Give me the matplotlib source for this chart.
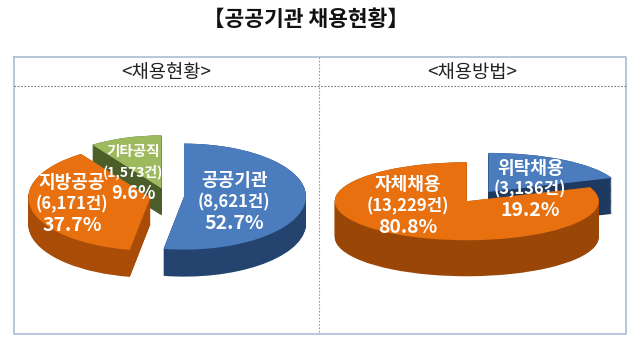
import numpy as np
import matplotlib
matplotlib.use("Agg")
import matplotlib.pyplot as plt

plt.rcParams['font.family'] = ['Noto Sans CJK KR', 'DejaVu Sans']

# ---- data ----
title = "【공공기관 채용현황】"
left_title = "<채용현황>"
right_title = "<채용방법>"

left_names = ["공공기관", "지방공공", "기타공직"]
left_counts = [8621, 6171, 1573]
left_pcts = [52.7, 37.7, 9.6]

right_names = ["위탁채용", "자체채용"]
right_counts = [3136, 13229]
right_pcts = [19.2, 80.8]

W, H = 640, 347
fig = plt.figure(figsize=(W / 100, H / 100), dpi=100)
fig.patch.set_facecolor("white")

def pie_axes(cx, cy, rx, ry, hw, hh):
    ax = fig.add_axes([(cx - hw) / W, 1 - (cy + hh) / H, 2 * hw / W, 2 * hh / H])
    ax.set_axis_off()
    return ax, (-hw / rx, hw / rx), (-hh / ry, hh / ry)

def draw_3d_pie(ax, xl, yl, values, top_cols, side_cols, explode, ranks, depth, n=40):
    for k in np.linspace(depth, 0, n):
        wedges, _ = ax.pie(values, startangle=90, counterclock=False, explode=explode,
                           colors=side_cols, center=(0, -k),
                           wedgeprops=dict(linewidth=0, antialiased=True))
        for w, r in zip(wedges, ranks):
            w.set_zorder(r * 10 + 1)
    wedges, _ = ax.pie(values, startangle=90, counterclock=False, explode=explode,
                       colors=top_cols, center=(0, 0),
                       wedgeprops=dict(linewidth=0, antialiased=True))
    for w, r in zip(wedges, ranks):
        w.set_zorder(r * 10 + 2)
    ax.set_aspect('auto')
    ax.set_xlim(*xl)
    ax.set_ylim(*yl)

# left pie
axL, xl, yl = pie_axes(167, 196, 122, 53, 150, 100)
draw_3d_pie(axL, xl, yl, left_counts,
            ["#4a7cbe", "#e8700f", "#9dbb5e"],
            ["#24446f", "#a84c08", "#4b5d29"],
            [0.14, 0.14, 0.15], [2, 1, 0], 27 / 53)

# right pie
axR, xl, yl = pie_axes(472, 199, 132, 39, 150, 100)
draw_3d_pie(axR, xl, yl, right_counts,
            ["#4a7cbe", "#e8700f"],
            ["#1f3a60", "#9a4607"],
            [0.22, 0.07], [0, 1], 36 / 39)

# overlay axes in pixel coordinates
ov = fig.add_axes([0, 0, 1, 1], zorder=50)
ov.set_xlim(0, W)
ov.set_ylim(H, 0)
ov.set_axis_off()
ov.patch.set_alpha(0)

ov.text(306, 19, title, ha="center", va="center", fontsize=15.5, fontweight="bold", color="#111111")

# boxes
ov.plot([14, 626, 626, 14, 14], [57, 57, 334, 334, 57], color="#a9bcd6", lw=1.2)
ov.plot([14, 626], [86, 86], color="#777777", lw=0.8, ls=(0, (1.5, 1.5)))
ov.plot([319, 319], [57, 334], color="#999999", lw=0.8, ls=(0, (1.5, 1.5)))
ov.text(166, 72, left_title, ha="center", va="center", fontsize=13.5, color="#222222")
ov.text(472, 72, right_title, ha="center", va="center", fontsize=13.5, color="#222222")

def label(x, y, name, cnt, pct, s1, s2, s3, dy1=22, dy2=21):
    ov.text(x, y, name, ha="center", va="center", fontsize=s1, color="white", fontweight="bold")
    ov.text(x, y + dy1, f"({cnt:,}건)", ha="center", va="center", fontsize=s2, color="white", fontweight="bold")
    ov.text(x, y + dy1 + dy2, f"{pct}%", ha="center", va="center", fontsize=s3, color="white", fontweight="bold")

label(234, 180, left_names[0], left_counts[0], left_pcts[0], 13, 12, 14)
label(72, 182, left_names[1], left_counts[1], left_pcts[1], 13, 12, 14)
label(133, 151, left_names[2], left_counts[2], left_pcts[2], 10.5, 10, 13, dy1=21, dy2=21)
label(530, 168, right_names[0], right_counts[0], right_pcts[0], 13, 12, 14, dy1=21, dy2=21)
label(408, 184, right_names[1], right_counts[1], right_pcts[1], 13, 12, 14)

fig.savefig("out.png", dpi=100, facecolor="white")
